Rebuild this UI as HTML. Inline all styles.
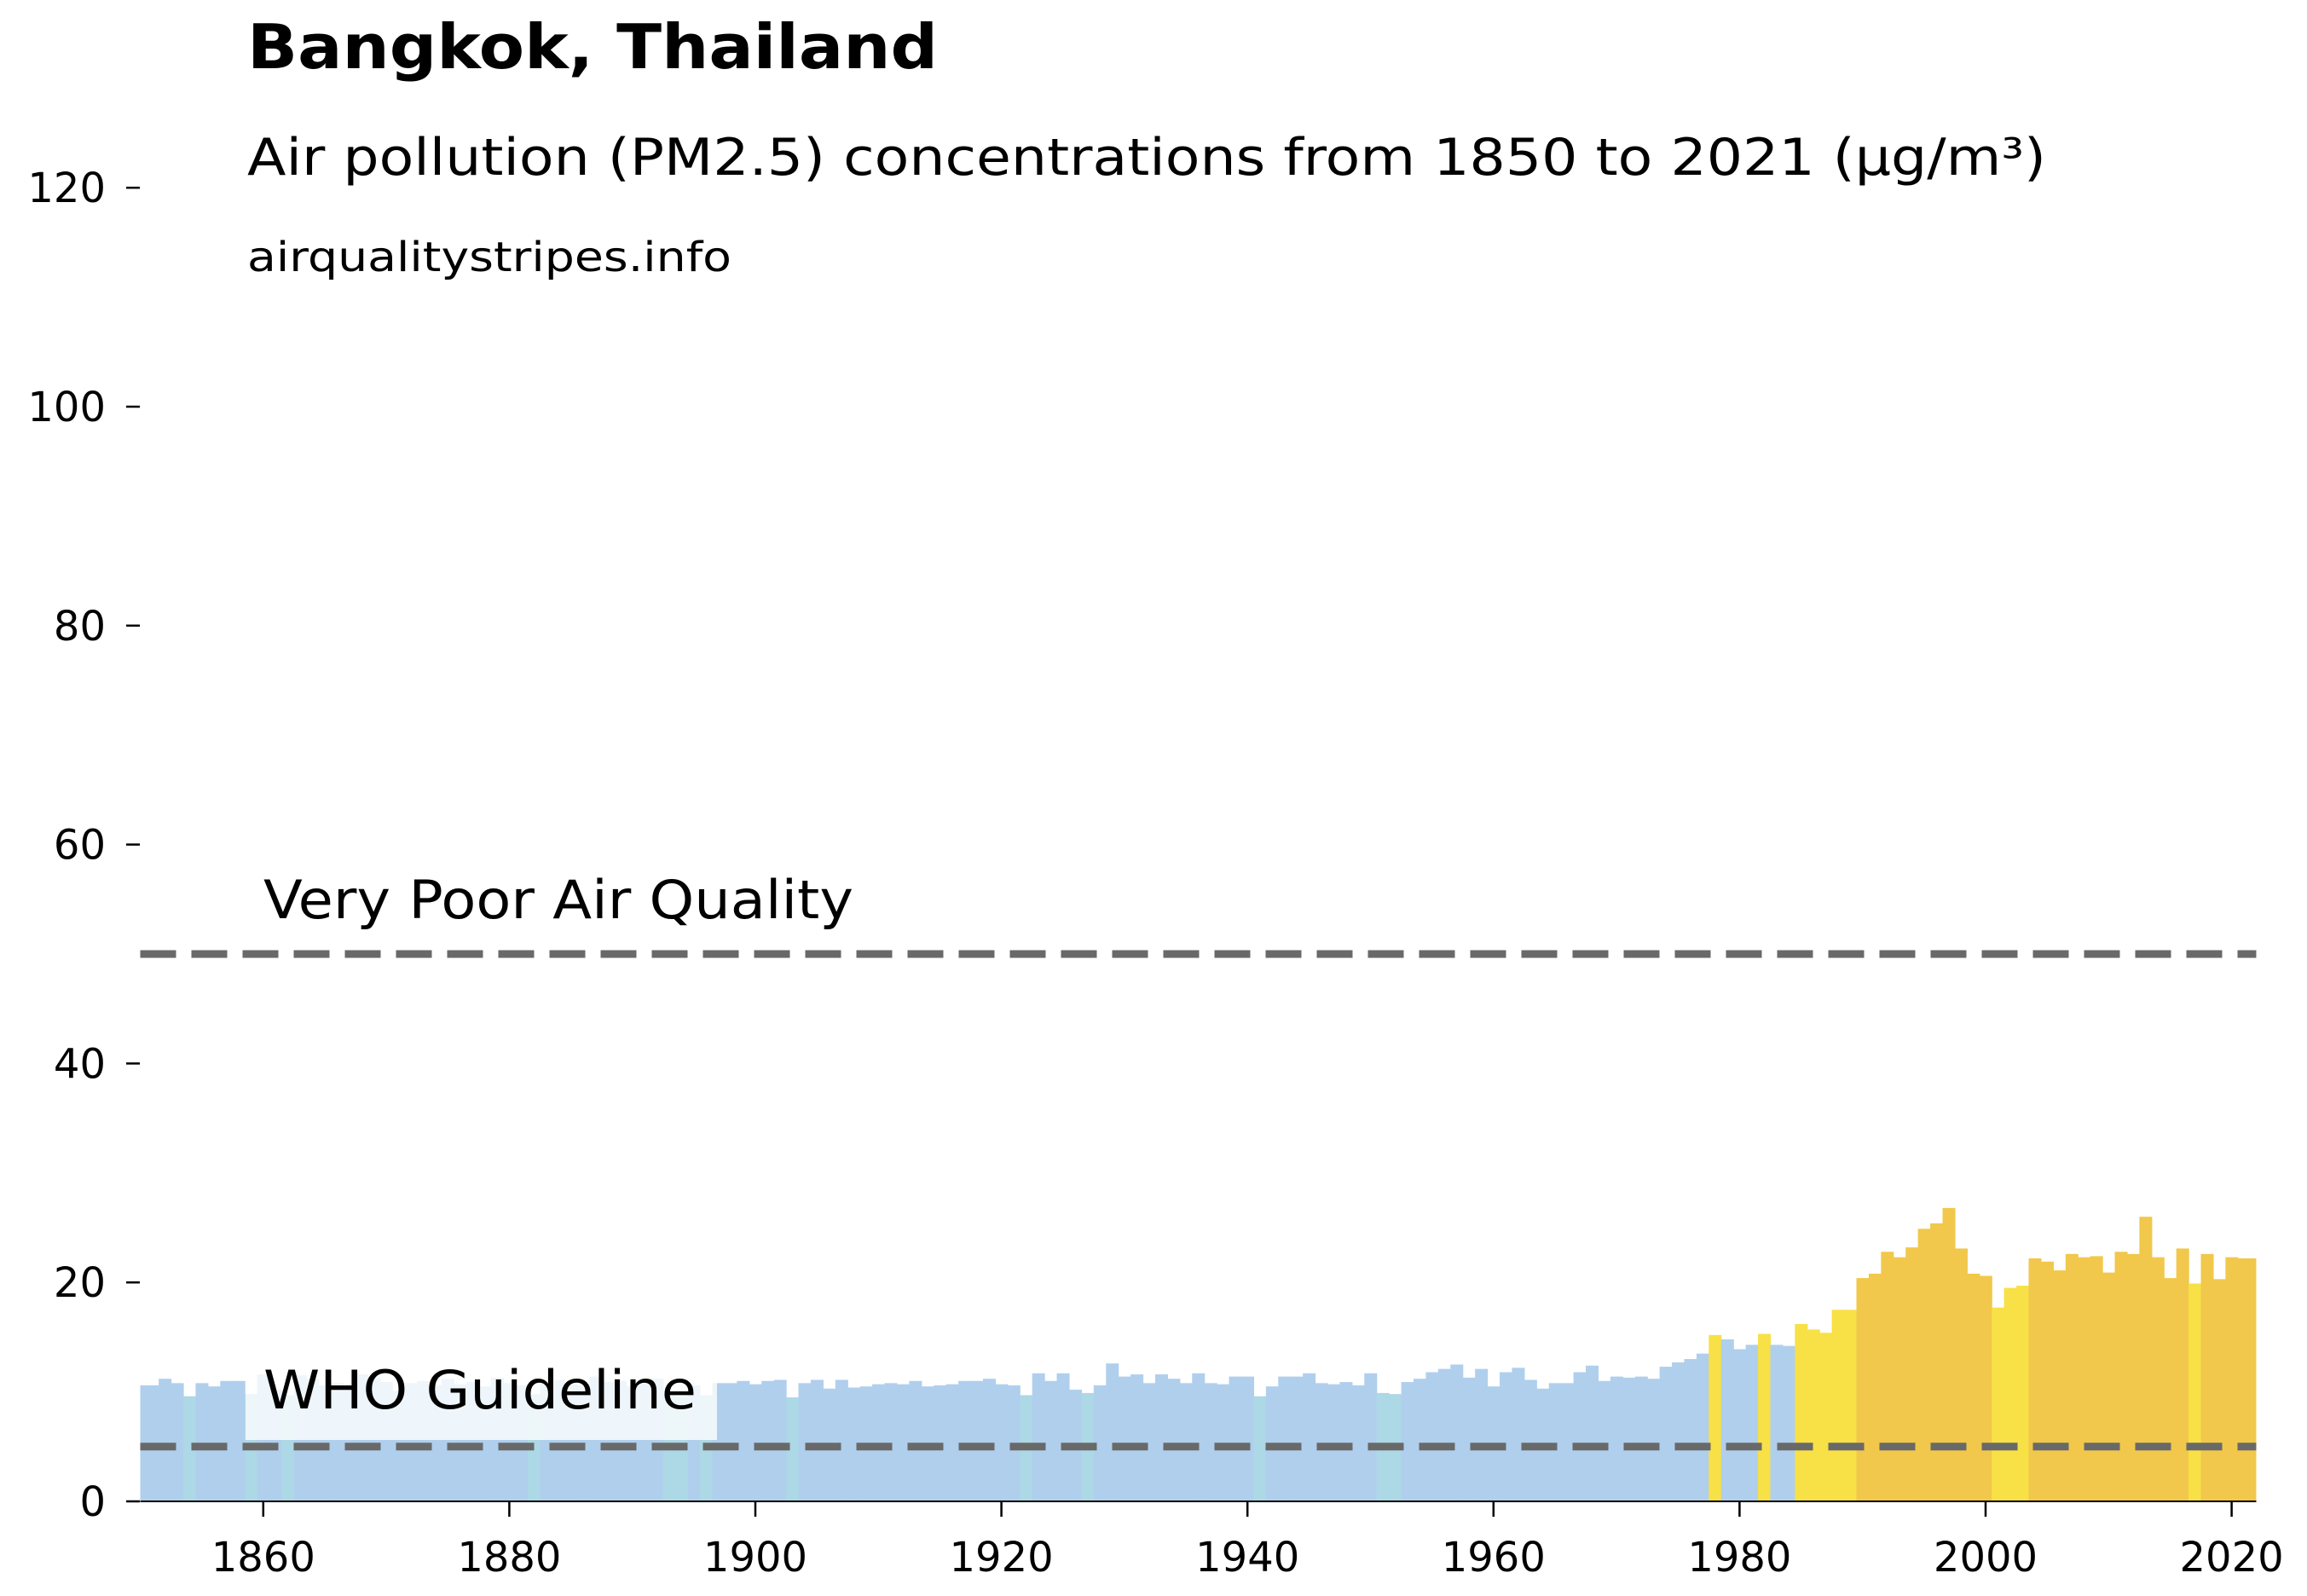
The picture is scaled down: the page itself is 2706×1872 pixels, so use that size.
<!DOCTYPE html>
<html><head><meta charset="utf-8"><style>
html,body{margin:0;padding:0;background:#fff;}
svg{display:block;font-family:"DejaVu Sans","Liberation Sans",sans-serif;}
</style></head><body>
<svg id="chart" width="2706" height="1872" viewBox="0 0 2706 1872" xmlns="http://www.w3.org/2000/svg">
<rect width="2706" height="1872" fill="#fff"/>
<text x="290" y="80" font-size="72" font-weight="bold" textLength="810" lengthAdjust="spacingAndGlyphs">Bangkok, Thailand</text>
<text x="290" y="205" font-size="60" textLength="2110" lengthAdjust="spacingAndGlyphs">Air pollution (PM2.5) concentrations from 1850 to 2021 (µg/m³)</text>
<text x="290" y="318" font-size="48" textLength="568" lengthAdjust="spacingAndGlyphs">airqualitystripes.info</text>
<defs><clipPath id="plotclip"><rect x="164.5" y="0" width="2482" height="1761"/></clipPath></defs>
<g id="bars" clip-path="url(#plotclip)"></g>
<g id="refs"></g>
<g id="axes"></g>
</svg>
<script>
const startYear = 1850;
const values = [
10.6,10.6,11.2,10.8,9.6,10.8,10.5,11.0,11.0,9.8,
11.6,10.2,9.7,11.5,11.2,10.6,10.8,10.4,11.6,11.3,
10.9,10.1,10.8,11.0,10.6,11.2,10.7,10.9,10.5,11.3,
10.8,10.6,9.8,10.9,11.1,10.7,10.6,11.4,10.9,11.0,
10.5,10.8,11.2,9.7,9.6,10.6,9.7,
10.8,10.8,11.0,10.7,11.0,11.1,9.5,10.8,11.1,10.3,
11.1,10.4,10.5,10.7,10.8,10.7,11.0,10.5,10.6,10.7,
11.0,11.0,11.2,10.7,10.6,9.7,11.7,11.0,11.7,10.2,
9.9,10.6,12.6,11.4,11.6,10.8,11.6,11.2,10.8,11.7,
10.8,10.7,11.4,11.4,9.6,10.5,11.4,11.4,11.7,10.8,
10.7,10.9,10.6,11.7,9.9,9.8,10.9,11.2,11.8,12.1,
12.5,11.3,12.1,10.5,11.8,12.2,11.1,10.3,10.8,10.8,
11.8,12.4,11.0,11.4,11.3,11.4,11.2,12.3,12.7,13.0,
13.5,15.2,14.8,13.9,14.3,15.3,14.3,14.2,16.2,15.7,
15.4,17.5,17.5,20.4,20.8,22.8,22.3,23.2,24.9,25.4,
26.8,23.1,20.8,20.6,17.7,19.5,19.7,22.2,21.9,21.1,
22.6,22.3,22.4,20.9,22.8,22.6,26.0,22.3,20.4,23.1,
19.9,22.6,20.3,22.3,22.2];
const yTicks = [0,20,40,60,80,100,120];
const xTicks = [1860,1880,1900,1920,1940,1960,1980,2000,2020];
const refValues = [5,50];
const refLabels = ["WHO Guideline","Very Poor Air Quality"];

const NS="http://www.w3.org/2000/svg";
const X0=164.5, PXY=14.43, Y0=1761, PXV=12.84;
const xs=yr=>X0+(yr-startYear)*PXY;
const ys=v=>Y0-v*PXV;
const endX=xs(startYear+values.length);
function col(v){return v<10?"#add8e6":v<15?"#b0cfed":v<20?"#f8e047":"#f1c84b";}
function mk(tag,attrs,parent){const e=document.createElementNS(NS,tag);for(const k in attrs)e.setAttribute(k,attrs[k]);parent.appendChild(e);return e;}
const gb=document.getElementById('bars');
values.forEach((v,i)=>{
  const last=i===values.length-1;
  const x=xs(startYear+i-0.5);
  const w=last?endX-x:PXY+0.6;
  const r=mk('rect',{x:x,y:ys(v),width:w,height:Y0-ys(v),fill:col(v)},gb);
  
  
});
const gr=document.getElementById('refs');
const box=mk('rect',{x:288,y:1605,width:553,height:84,fill:"#fff","fill-opacity":0.78},gr);


refValues.forEach((v,i)=>{
  const l=mk('line',{x1:xs(startYear),x2:endX,y1:ys(v),y2:ys(v),stroke:"#696969","stroke-width":9,"stroke-dasharray":"42 18"},gr);
  
  
  const t=mk('text',{x:309,y:ys(v)-(i==0?45:42),"font-size":62,textLength:i==0?508:692,lengthAdjust:"spacingAndGlyphs"},gr);
  t.textContent=refLabels[i];
  
  
});
const ga=document.getElementById('axes');
const bl=mk('line',{x1:xs(startYear),x2:endX,y1:Y0,y2:Y0,stroke:"#000","stroke-width":2},ga);


yTicks.forEach(v=>{
  const tk=mk('line',{x1:148,x2:164,y1:ys(v),y2:ys(v),stroke:"#000","stroke-width":2.5},ga);
  
  
  const t=mk('text',{x:124,y:ys(v)+17,"font-size":48,"text-anchor":"end"},ga);
  t.textContent=v;
  
  
});
xTicks.forEach(yr=>{
  const x=xs(yr);
  const tk=mk('line',{x1:x,x2:x,y1:Y0,y2:Y0+18,stroke:"#000","stroke-width":2.5},ga);
  
  
  const t=mk('text',{x:x,y:1843,"font-size":48,"text-anchor":"middle"},ga);
  t.textContent=yr;
  
  
});
</script>
</body></html>
